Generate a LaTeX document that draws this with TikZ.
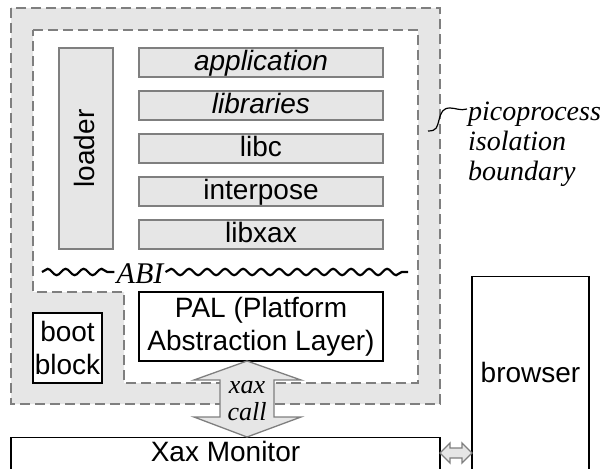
\documentclass[tikz,border=0pt]{standalone}
\usepackage{fontspec}
\setmainfont{Liberation Serif}
\setsansfont{Liberation Sans}
\usetikzlibrary{decorations.pathmorphing}

\definecolor{bandgray}{HTML}{E6E6E6}
\definecolor{edgegray}{HTML}{7F7F7F}

\tikzset{
  layer/.style={draw=edgegray, fill=bandgray, line width=1.3pt, inner sep=0pt,
    minimum width=244pt, minimum height=29pt, text height=21pt, text depth=5pt,
    font=\sffamily\fontsize{28}{32}\selectfont},
  plainbox/.style={draw, fill=white, line width=1.3pt, inner sep=0pt, align=center,
    font=\sffamily\fontsize{28}{33}\selectfont},
  boxtext/.style={inner sep=0pt, font=\sffamily\fontsize{28}{32}\selectfont},
  bound/.style={draw=edgegray, dash pattern=on 10pt off 5pt, line width=1.3pt},
  fatarrow/.style={draw=edgegray, fill=bandgray, line width=1.3pt},
  note/.style={inner sep=0pt, font=\itshape\fontsize{28}{30}\selectfont},
  wave/.style={decorate, decoration={snake, segment length=18pt, amplitude=3.2pt},
    line width=2.2pt}
}

\begin{document}
\begin{tikzpicture}[x=1pt, y=-1pt]

\clip (0,0) rectangle (607,468);

% isolation band
\fill[bandgray, even odd rule] (11,8) rectangle (440,404)
  (33,30) -- (418,30) -- (418,383) -- (124,383) -- (124,292) -- (33,292) -- cycle;
\draw[bound] (11,8) rectangle (440,404);
\draw[bound] (33,30) -- (418,30) -- (418,383) -- (124,383) -- (124,292) -- (33,292) -- cycle;

% layers
\node[layer, rotate=90, minimum width=201pt, minimum height=54pt] (loader) at (86,148.5) {loader};
\foreach \name/\txt [count=\i] in {app/\textit{application}, libs/\textit{libraries}, libc/libc, interp/interpose, libxax/libxax}
  \node[layer] (\name) at (261,19.5+43*\i) {\txt};

% ABI line
\node[note, inner sep=2pt, font=\itshape\fontsize{30}{30}\selectfont] (abi) at (140,274) {ABI};
\coordinate (abiL) at (42,272);
\coordinate (abiR) at (408,272);
\draw[wave] (abiL) -- (abi.west |- abiL);
\draw[wave] (abi.east |- abiR) -- (abiR);

\node[plainbox, minimum width=244pt, minimum height=69pt] (pal) at (261,326.5) {PAL (Platform\\Abstraction Layer)};
\node[plainbox, minimum width=69pt, minimum height=70pt] (boot) at (67.5,348) {boot\\block};

\node[plainbox, anchor=north, minimum width=429pt, minimum height=60pt] (mon) at (225.5,437) {};
\node[boxtext] (montxt) at (225.5,451) {Xax Monitor};
\node[plainbox, anchor=north, minimum width=117pt, minimum height=230pt] (browser) at (530.5,276) {};
\node[boxtext] (browsertxt) at (530.5,372) {browser};

% xax call arrow
\coordinate (xtop) at (247,361);
\coordinate (xbot) at (247,437);
\draw[fatarrow] (xtop) -- ++(54,19) -- ++(-27,0) -- ++(0,37) -- ++(27,0) -- (xbot)
  -- ++(-53,-20) -- ++(26,0) -- ++(0,-37) -- ++(-26,0) -- cycle;
\node[note, align=center, font=\itshape\fontsize{26}{27}\selectfont] (xcall) at (247,401) {xax\\call};

% monitor <-> browser
\coordinate (sL) at (440,453);
\coordinate (sR) at (472,453);
\draw[fatarrow] (sL) -- ++(10,-10) -- ++(0,5) -- ++(12,0) -- ++(0,-5) -- (sR)
  -- ++(-10,10) -- ++(0,-5) -- ++(-12,0) -- ++(0,5) -- cycle;

% boundary note
\node[note, anchor=base west, align=left] (pico) at (468,180) {picoprocess\\isolation\\boundary};
\coordinate (curlL) at (428,131);
\coordinate (curlR) at (467,109);
\draw[line width=1.2pt] (curlL) .. controls (437,131) and (437,127) .. (439,120)
  .. controls (441,112) and (443,108) .. (450,108) .. controls (456,108) and (460,111) .. (curlR);

\end{tikzpicture}
\end{document}
